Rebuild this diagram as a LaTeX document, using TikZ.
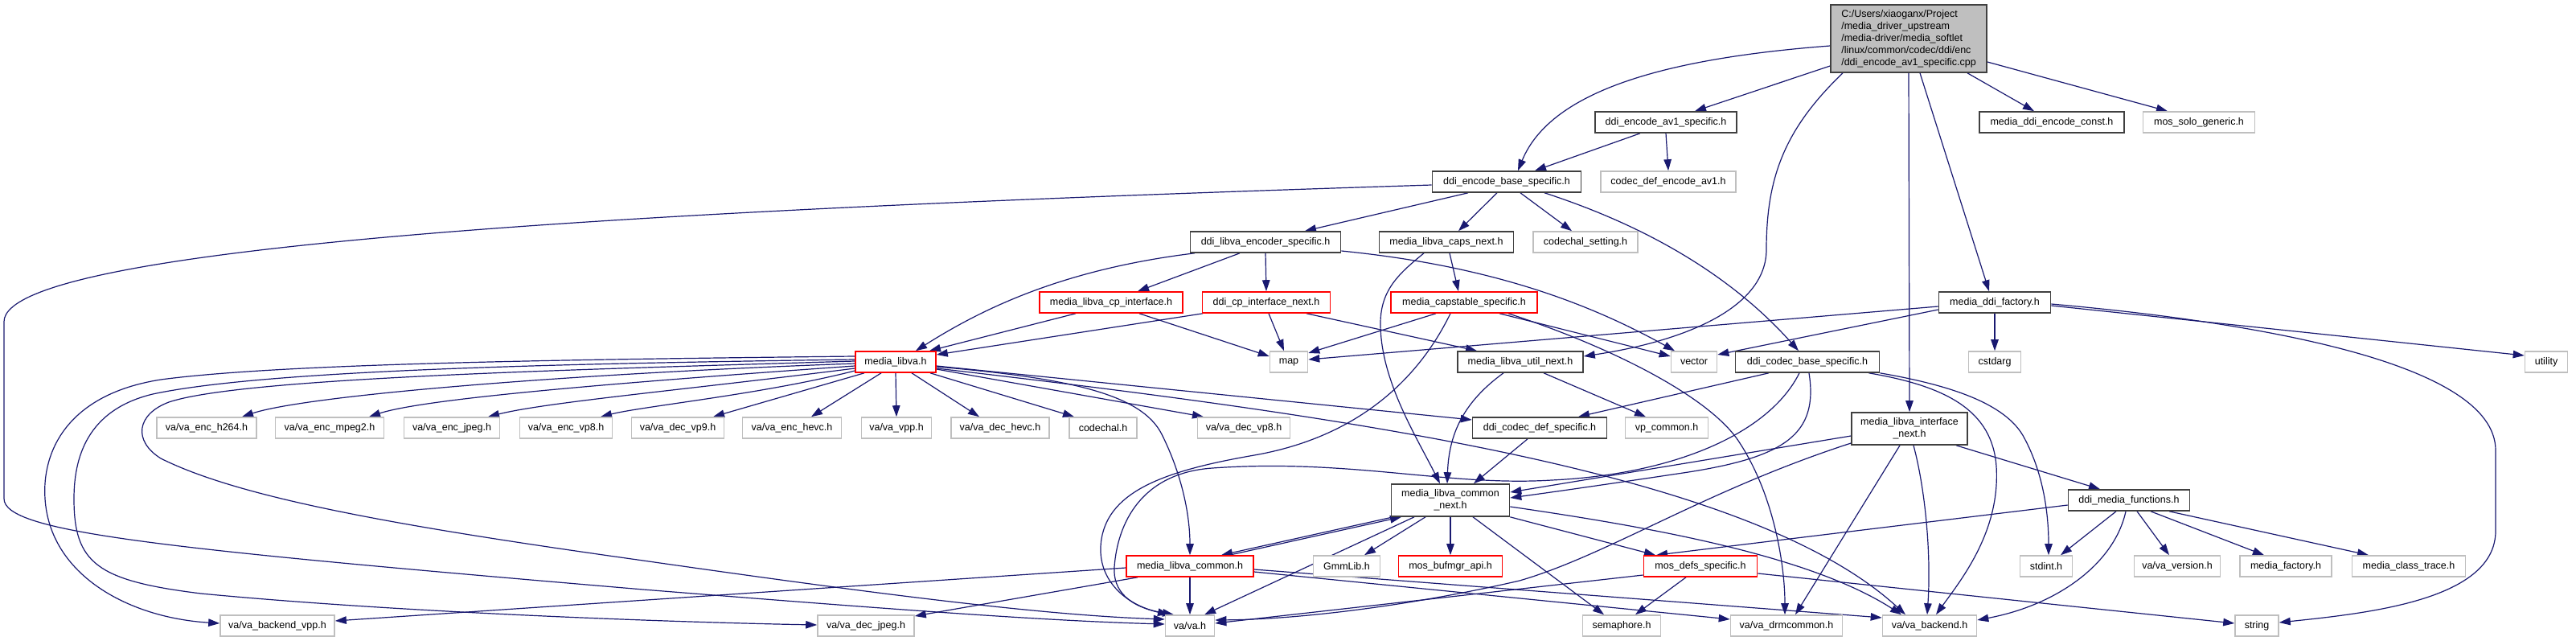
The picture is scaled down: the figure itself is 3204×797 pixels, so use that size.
\documentclass[tikz,border=0pt]{standalone}
\usepackage{fontspec}
\setmainfont{Liberation Sans}
\usetikzlibrary{arrows.meta}
\definecolor{edgec}{HTML}{191970}
\definecolor{lgray}{HTML}{BFBFBF}
\definecolor{dgray}{HTML}{404040}
\definecolor{rootfill}{HTML}{BFBFBF}
\definecolor{redc}{HTML}{FF0000}
\pgfdeclarelayer{bg}
\pgfdeclarelayer{edges}
\pgfsetlayers{bg,edges,main}
\tikzset{
  box/.style={rectangle, inner sep=0pt, minimum height=26pt, line width=1.6pt, fill=white, font=\fontsize{12.5}{15}\selectfont, text=black},
  bn/.style={box, draw=dgray},
  gn/.style={box, draw=lgray},
  rn/.style={box, draw=redc},
  e/.style={draw=edgec, line width=1.2pt, -{Triangle[length=14pt,width=9.5pt]}},
}
\begin{document}
\begin{tikzpicture}[x=1pt,y=-1pt]
\begin{pgfonlayer}{bg}
\fill[white] (0,0) rectangle (3204,797);
\end{pgfonlayer}
\useasboundingbox (0,0) rectangle (3204,797);

% ---------- nodes ----------
\node[box, draw=dgray, fill=rootfill, minimum width=194pt, minimum height=84pt, align=left] (root) at (2374,48)
  {C:/Users/xiaoganx/Project\\/media\_driver\_upstream\\/media-driver/media\_softlet\\/linux/common/codec/ddi/enc\\/ddi\_encode\_av1\_specific.cpp};
\node[bn, minimum width=176pt] (av1h) at (2072,152) {ddi\_encode\_av1\_specific.h};
\node[bn, minimum width=180pt] (constH) at (2552,152) {media\_ddi\_encode\_const.h};
\node[gn, minimum width=139pt] (solo) at (2735,152) {mos\_solo\_generic.h};
\node[bn, minimum width=185pt] (base) at (1874,226) {ddi\_encode\_base\_specific.h};
\node[gn, minimum width=168pt] (cdav1) at (2075,226) {codec\_def\_encode\_av1.h};
\node[bn, minimum width=187pt] (encspec) at (1574,301) {ddi\_libva\_encoder\_specific.h};
\node[bn, minimum width=167pt] (capsnext) at (1799,301) {media\_libva\_caps\_next.h};
\node[gn, minimum width=130pt] (cset) at (1972,301) {codechal\_setting.h};
\node[rn, minimum width=178pt] (cpif) at (1382,376) {media\_libva\_cp\_interface.h};
\node[rn, minimum width=159pt] (cpnext) at (1575,376) {ddi\_cp\_interface\_next.h};
\node[rn, minimum width=182pt] (capstab) at (1821,376) {media\_capstable\_specific.h};
\node[bn, minimum width=139pt] (factory) at (2481,376) {media\_ddi\_factory.h};
\node[rn, minimum width=100pt] (libva) at (1114,450) {media\_libva.h};
\node[gn, minimum width=47pt] (map) at (1603,450) {map};
\node[bn, minimum width=156pt] (utilnext) at (1891,450) {media\_libva\_util\_next.h};
\node[gn, minimum width=57pt] (vector) at (2107,450) {vector};
\node[bn, minimum width=179pt] (codecbase) at (2248,450) {ddi\_codec\_base\_specific.h};
\node[gn, minimum width=65pt] (cstdarg) at (2481,450) {cstdarg};
\node[gn, minimum width=53pt] (utility) at (3167,450) {utility};
\node[gn, minimum width=124pt] (h264) at (257,532) {va/va\_enc\_h264.h};
\node[gn, minimum width=135pt] (mpeg2) at (410,532) {va/va\_enc\_mpeg2.h};
\node[gn, minimum width=119pt] (jpeg) at (562,532) {va/va\_enc\_jpeg.h};
\node[gn, minimum width=115pt] (vp8e) at (704,532) {va/va\_enc\_vp8.h};
\node[gn, minimum width=115pt] (vp9) at (843,532) {va/va\_dec\_vp9.h};
\node[gn, minimum width=123pt] (hevce) at (985,532) {va/va\_enc\_hevc.h};
\node[gn, minimum width=87pt] (vpp) at (1115,532) {va/va\_vpp.h};
\node[gn, minimum width=122pt] (hevcd) at (1244,532) {va/va\_dec\_hevc.h};
\node[gn, minimum width=84pt] (codechal) at (1372,532) {codechal.h};
\node[gn, minimum width=115pt] (vp8d) at (1547,532) {va/va\_dec\_vp8.h};
\node[bn, minimum width=167pt] (codecdef) at (1915,532) {ddi\_codec\_def\_specific.h};
\node[gn, minimum width=103pt] (vpcommon) at (2073,532) {vp\_common.h};
\node[bn, minimum width=144pt, minimum height=40pt, align=center] (ifnext) at (2375,533) {media\_libva\_interface\\\_next.h};
\node[bn, minimum width=147pt, minimum height=40pt, align=center] (commonnext) at (1804,622) {media\_libva\_common\\\_next.h};
\node[bn, minimum width=151pt] (mediafunc) at (2648,622) {ddi\_media\_functions.h};
\node[rn, minimum width=158pt] (common) at (1480,704) {media\_libva\_common.h};
\node[gn, minimum width=83pt] (gmm) at (1675,704) {GmmLib.h};
\node[rn, minimum width=129pt] (bufmgr) at (1804,704) {mos\_bufmgr\_api.h};
\node[rn, minimum width=141pt] (mosdefs) at (2115,704) {mos\_defs\_specific.h};
\node[gn, minimum width=65pt] (stdint) at (2545,704) {stdint.h};
\node[gn, minimum width=107pt] (vaversion) at (2708,704) {va/va\_version.h};
\node[gn, minimum width=114pt] (mfactory) at (2843,704) {media\_factory.h};
\node[gn, minimum width=141pt] (mclass) at (2996,704) {media\_class\_trace.h};
\node[gn, minimum width=142pt] (backendvpp) at (345,778) {va/va\_backend\_vpp.h};
\node[gn, minimum width=120pt] (decjpeg) at (1077,778) {va/va\_dec\_jpeg.h};
\node[gn, minimum width=61pt] (vah) at (1480,778) {va/va.h};
\node[gn, minimum width=97pt] (semaphore) at (2017,778) {semaphore.h};
\node[gn, minimum width=139pt] (drmcommon) at (2222,778) {va/va\_drmcommon.h};
\node[gn, minimum width=117pt] (backend) at (2400,778) {va/va\_backend.h};
\node[gn, minimum width=54pt] (string) at (2807,778) {string};

% ---------- edges ----------
\begin{pgfonlayer}{edges}
% root
\draw[e] ([yshift=-9pt]root.west) .. controls (2080,72) and (1930,110) .. ([xshift=14pt]base.north);
\draw[e] ([yshift=-34pt]root.west) -- ([xshift=36pt]av1h.north);
\draw[e] ([xshift=-82pt]root.south) .. controls (2220,160) and (2197,220) .. (2197,310) .. controls (2197,385) and (2090,425) .. ([yshift=7pt]utilnext.east);
\draw[e] (root.south) -- (ifnext.north);
\draw[e] ([xshift=14pt]root.south) -- ([xshift=-7pt]factory.north);
\draw[e] ([xshift=73pt]root.south) -- ([xshift=-22pt]constH.north);
\draw[e] ([yshift=-29pt]root.east) -- ([xshift=-39pt]solo.north);
% av1h
\draw[e] ([xshift=-32pt]av1h.south) -- ([xshift=35pt]base.north);
\draw[e] (av1h.south) -- (cdav1.north);
% base
\draw[e] ([xshift=-48pt]base.south) -- ([xshift=49pt]encspec.north);
\draw[e] ([xshift=-12pt]base.south) -- ([xshift=15pt]capsnext.north);
\draw[e] ([xshift=17pt]base.south) -- ([xshift=-17pt]cset.north);
\draw[e] ([xshift=47pt]base.south) .. controls (2060,285) and (2160,350) .. ([xshift=-11pt]codecbase.north);
\draw[e] ([yshift=-4pt]base.west) .. controls (900,258) and (5,300) .. (5,400) -- (5,620) .. controls (5,662) and (200,682) .. (800,733) .. controls (1100,757) and (1300,772) .. ([yshift=2pt]vah.west);
% encspec
\draw[e] ([xshift=-88pt]encspec.south) .. controls (1320,335) and (1220,385) .. ([xshift=25pt]libva.north);
\draw[e] ([xshift=-32pt]encspec.south) -- ([xshift=33pt]cpif.north);
\draw[e] (encspec.south) -- (cpnext.north);
\draw[e] ([yshift=-11pt]encspec.east) .. controls (1870,332) and (1990,385) .. ([xshift=-24pt]vector.north);
% capsnext
\draw[e] ([xshift=4pt]capsnext.south) -- ([xshift=-7pt]capstab.north);
\draw[e] ([xshift=-28pt]capsnext.south) .. controls (1740,340) and (1718,360) .. (1717,400) .. controls (1716,470) and (1760,540) .. ([xshift=-13pt]commonnext.north);
% cpif
\draw[e] ([xshift=-44pt]cpif.south) -- ([xshift=42pt]libva.north);
\draw[e] ([xshift=35pt]cpif.south) -- ([yshift=7pt]map.west);
% cpnext
\draw[e] ([xshift=-79pt]cpnext.south) -- ([yshift=9pt]libva.east);
\draw[e] ([xshift=3pt]cpnext.south) -- ([xshift=-6pt]map.north);
\draw[e] ([xshift=50pt]cpnext.south) -- ([xshift=-54pt]utilnext.north);
% capstab
\draw[e] ([xshift=-35pt]capstab.south) -- ([yshift=11pt]map.east);
\draw[e] ([xshift=-17pt]capstab.south) .. controls (1760,480) and (1680,545) .. (1560,566) .. controls (1450,585) and (1380,610) .. (1370,670) .. controls (1362,720) and (1400,752) .. ([xshift=-26pt]vah.north);
\draw[e] ([xshift=44pt]capstab.south) -- ([yshift=7pt]vector.west);
\draw[e] ([xshift=55pt]capstab.south) .. controls (2000,430) and (2120,490) .. (2160,545) .. controls (2205,610) and (2220,700) .. ([xshift=-2pt]drmcommon.north);
% factory
\draw[e] ([yshift=-5pt]factory.west) -- ([yshift=3pt]map.east);
\draw[e] ([yshift=-9pt]factory.west) -- ([yshift=9pt]vector.east);
\draw[e] (factory.south) -- (cstdarg.north);
\draw[e] ([yshift=-4pt]factory.east) -- ([yshift=8pt]utility.west);
\draw[e] ([yshift=-2pt]factory.east) .. controls (2800,400) and (3104,450) .. (3104,560) -- (3104,660) .. controls (3104,745) and (2950,762) .. ([yshift=4pt]string.east);
% utilnext, codecdef
\draw[e] ([xshift=-21pt]utilnext.south) .. controls (1820,500) and (1802,540) .. ([xshift=-4pt]commonnext.north);
\draw[e] ([xshift=29pt]utilnext.south) -- ([xshift=-26pt]vpcommon.north);
\draw[e] ([xshift=-15pt]codecdef.south) -- ([xshift=29pt]commonnext.north);
% libva
\draw[e] ([yshift=-2pt]libva.west) .. controls (700,465) and (380,492) .. ([xshift=44pt]h264.north);
\draw[e] ([yshift=-5pt]libva.west) .. controls (780,475) and (530,495) .. ([xshift=49pt]mpeg2.north);
\draw[e] ([yshift=-8pt]libva.west) .. controls (850,485) and (680,500) .. ([xshift=45pt]jpeg.north);
\draw[e] ([yshift=-11pt]libva.west) .. controls (950,490) and (800,505) .. ([xshift=43pt]vp8e.north);
\draw[e] ([xshift=-39pt]libva.south) -- ([xshift=44pt]vp9.north);
\draw[e] ([xshift=-18pt]libva.south) -- ([xshift=24pt]hevce.north);
\draw[e] (libva.south) -- (vpp.north);
\draw[e] ([xshift=20pt]libva.south) -- ([xshift=-26pt]hevcd.north);
\draw[e] ([xshift=43pt]libva.south) -- ([xshift=-36pt]codechal.north);
\draw[e] ([yshift=-9pt]libva.east) -- ([xshift=-50pt]vp8d.north);
\draw[e] ([yshift=-5pt]libva.east) -- ([yshift=10pt]codecdef.west);
\draw[e] ([yshift=-8pt]libva.east) .. controls (1700,520) and (2180,590) .. ([xshift=-30pt]backend.north);
\draw[e] ([yshift=-6pt]libva.east) .. controls (1330,470) and (1420,490) .. (1445,540) .. controls (1470,590) and (1480,640) .. (common.north);
\draw[e] ([yshift=7pt]libva.west) .. controls (700,447) and (350,452) .. (200,472) .. controls (85,490) and (52,560) .. (56,620) .. controls (62,715) and (160,768) .. ([yshift=3pt]backendvpp.west);
\draw[e] ([yshift=3pt]libva.west) .. controls (700,452) and (330,460) .. (190,490) .. controls (115,508) and (92,560) .. (92,620) .. controls (92,700) and (120,722) .. (250,738) .. controls (500,762) and (850,774) .. ([yshift=1pt]decjpeg.west);
\draw[e] ([yshift=1pt]libva.west) .. controls (700,460) and (300,470) .. (210,500) .. controls (170,515) and (165,548) .. (200,570) .. controls (300,620) and (500,655) .. (800,697) .. controls (1100,740) and (1300,765) .. ([yshift=8pt]vah.west);
% codecbase
\draw[e] ([xshift=-48pt]codecbase.south) -- ([xshift=48pt]codecdef.north);
\draw[e] ([xshift=-10pt]codecbase.south) .. controls (2200,540) and (2080,590) .. (1930,597) .. controls (1800,605) and (1680,570) .. (1508,582) .. controls (1420,588) and (1390,650) .. (1386,705) .. controls (1384,735) and (1405,755) .. ([xshift=-20pt]vah.north);
\draw[e] ([xshift=2pt]codecbase.south) .. controls (2262,540) and (2220,568) .. (2100,587) .. controls (2000,602) and (1930,612) .. ([yshift=3pt]commonnext.east);
\draw[e] (codecbase.south east) .. controls (2420,478) and (2495,500) .. (2518,545) .. controls (2542,590) and (2548,640) .. ([xshift=3pt]stdint.north);
\draw[e] ([xshift=-14pt]codecbase.south east) .. controls (2420,480) and (2478,510) .. (2483,580) .. controls (2488,660) and (2440,720) .. ([xshift=8pt]backend.north);
% ifnext
\draw[e] ([yshift=-9pt]ifnext.west) -- ([yshift=10pt]commonnext.east);
\draw[e] ([yshift=-18pt]ifnext.west) .. controls (2120,610) and (2000,690) .. (1890,722) .. controls (1760,752) and (1620,770) .. ([yshift=7pt]vah.east);
\draw[e] ([xshift=-12pt]ifnext.south) -- ([xshift=11pt]drmcommon.north);
\draw[e] ([xshift=5pt]ifnext.south) .. controls (2395,610) and (2402,690) .. ([xshift=-3pt]backend.north);
\draw[e] ([xshift=58pt]ifnext.south) -- ([xshift=-36pt]mediafunc.north);
% mediafunc
\draw[e] ([xshift=-16pt]mediafunc.south) -- ([xshift=18pt]stdint.north);
\draw[e] ([xshift=10pt]mediafunc.south) -- ([xshift=-10pt]vaversion.north);
\draw[e] ([xshift=27pt]mediafunc.south) -- ([xshift=-27pt]mfactory.north);
\draw[e] ([xshift=50pt]mediafunc.south) -- ([xshift=-50pt]mclass.north);
\draw[e] ([xshift=-4pt]mediafunc.south) .. controls (2630,700) and (2560,752) .. ([yshift=7pt]backend.east);
\draw[e] ([yshift=-6pt]mediafunc.west) -- ([xshift=-55pt]mosdefs.north);
% commonnext
\draw[e] ([xshift=-71pt]commonnext.south) -- ([xshift=39pt]common.north);
\draw[e] ([xshift=49pt]common.north) -- ([xshift=-61pt]commonnext.south);
\draw[e] ([xshift=-45pt]commonnext.south) -- ([xshift=18pt]vah.north);
\draw[e] ([xshift=-31pt]commonnext.south) -- ([xshift=22pt]gmm.north);
\draw[e] (commonnext.south) -- (bufmgr.north);
\draw[e] ([xshift=28pt]commonnext.south) -- ([xshift=-22pt]semaphore.north);
\draw[e] (commonnext.south east) -- ([xshift=-56pt]mosdefs.north);
\draw[e] ([yshift=-8pt]commonnext.east) .. controls (2050,655) and (2250,690) .. ([xshift=-35pt]backend.north);
% common
\draw[e] (common.south) -- (vah.north);
\draw[e] ([yshift=-2pt]common.west) -- ([yshift=6pt]backendvpp.east);
\draw[e] ([xshift=-65pt]common.south) -- ([yshift=12pt]decjpeg.east);
\draw[e] ([yshift=-7pt]common.east) -- ([yshift=8pt]drmcommon.west);
\draw[e] ([yshift=-4pt]common.east) -- ([yshift=10pt]backend.west);
% mosdefs
\draw[e] ([xshift=-18pt]mosdefs.south) -- ([xshift=17pt]semaphore.north);
\draw[e] ([yshift=-11pt]mosdefs.west) -- ([yshift=3pt]vah.east);
\draw[e] ([yshift=-9pt]mosdefs.east) -- ([yshift=3pt]string.west);
\end{pgfonlayer}
\end{tikzpicture}
\end{document}
